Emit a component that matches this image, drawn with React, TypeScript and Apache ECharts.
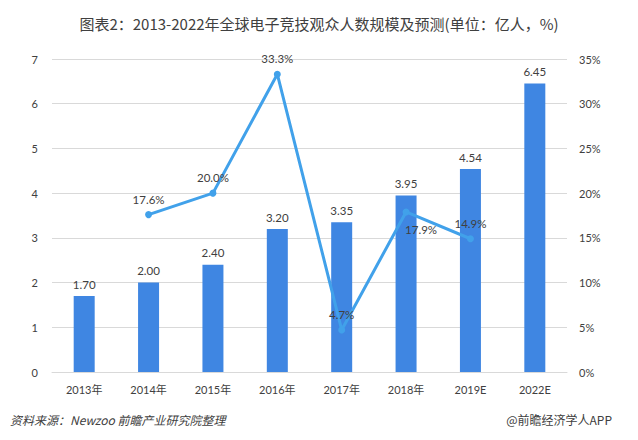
import React, { useEffect, useRef } from "react";
import * as echarts from "echarts";

const categories = ["2013年", "2014年", "2015年", "2016年", "2017年", "2018年", "2019E", "2022E"];
const audience = [1.7, 2.0, 2.4, 3.2, 3.35, 3.95, 4.54, 6.45];
const growth: (number | null)[] = [null, 17.6, 20.0, 33.3, 4.7, 17.9, 14.9, null];
const leftTicks = [0, 7, 1];
const rightTicks = [0, 35, 5];

const titleText = "图表2：2013-2022年全球电子竞技观众人数规模及预测(单位：亿人，%)";
const sourceText = "资料来源：Newzoo 前瞻产业研究院整理";
const brandText = "@前瞻经济学人APP";

const FONT = "Lato, 'Noto Sans CJK SC', sans-serif";
const CJK = "'Noto Sans CJK SC', sans-serif";

export default function App() {
  const ref = useRef<HTMLDivElement>(null);
  useEffect(() => {
    if (!ref.current) return;
    const chart = echarts.init(ref.current, null, { renderer: "svg" });
    chart.setOption({
      animation: false,
      backgroundColor: "#ffffff",
      title: {
        text: titleText,
        left: "center",
        top: 11,
        textStyle: { fontFamily: CJK, fontSize: 15, fontWeight: "normal", color: "#404040" },
      },
      grid: { left: 52, right: 71, top: 59, bottom: 68 },
      xAxis: {
        type: "category",
        data: categories,
        axisLine: { show: true, lineStyle: { color: "#d9d9d9" } },
        axisTick: { show: false },
        axisLabel: { fontFamily: FONT, fontSize: 11, color: "#404040", margin: 12 },
      },
      yAxis: [
        {
          type: "value",
          min: leftTicks[0],
          max: leftTicks[1],
          interval: leftTicks[2],
          axisLine: { show: false },
          axisTick: { show: false },
          axisLabel: { fontFamily: FONT, fontSize: 11, color: "#404040", margin: 14 },
          splitLine: { lineStyle: { color: "#d9d9d9" } },
        },
        {
          type: "value",
          min: rightTicks[0],
          max: rightTicks[1],
          interval: rightTicks[2],
          axisLine: { show: false },
          axisTick: { show: false },
          axisLabel: { fontFamily: FONT, fontSize: 11, color: "#404040", margin: 12, formatter: "{value}%" },
          splitLine: { show: false },
        },
      ],
      series: [
        {
          type: "bar",
          data: audience,
          barWidth: 21,
          itemStyle: { color: "#3f86e2" },
          label: {
            show: true,
            position: "top",
            distance: 6,
            fontFamily: FONT,
            fontSize: 11.5,
            color: "#404040",
            formatter: (p: any) => Number(p.value).toFixed(2),
          },
        },
        {
          type: "line",
          yAxisIndex: 1,
          data: growth.map((v, i) => {
            if (v === null) return "-";
            if (i === 5) {
              return { value: v, label: { position: "bottom", offset: [15, 2] } };
            }
            return v;
          }),
          connectNulls: false,
          symbol: "circle",
          symbolSize: 7,
          lineStyle: { color: "#41a1ea", width: 3 },
          itemStyle: { color: "#41a1ea" },
          label: {
            show: true,
            position: "top",
            distance: 6,
            fontFamily: FONT,
            fontSize: 11.5,
            color: "#404040",
            formatter: (p: any) => Number(p.value).toFixed(1) + "%",
          },
          z: 5,
        },
      ],
      graphic: [
        {
          type: "text",
          left: 10,
          top: 413,
          style: { text: sourceText, fontFamily: CJK, fontSize: 12, fontStyle: "italic", fill: "#404040" },
        },
        {
          type: "text",
          right: 26,
          top: 413,
          style: { text: brandText, fontFamily: CJK, fontSize: 12, fill: "#404040" },
        },
      ],
    });
    return () => chart.dispose();
  }, []);
  return (
    <div
      ref={ref}
      style={{ position: "fixed", left: 0, top: 0, width: 638, height: 440, background: "#fff" }}
    />
  );
}
